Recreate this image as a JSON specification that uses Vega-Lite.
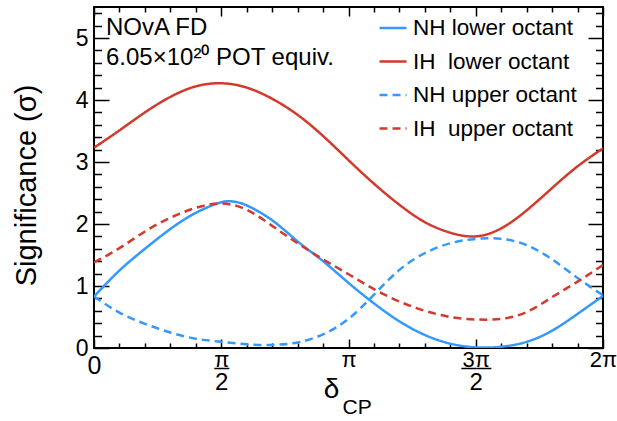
{
  "$schema": "https://vega.github.io/schema/vega-lite/v6.json",
  "autosize": "none",
  "padding": {"left": 94, "top": 7, "right": 14, "bottom": 73},
  "width": 509,
  "height": 341,
  "config": {
    "font": "Liberation Sans",
    "view": {"stroke": "black", "strokeWidth": 2},
    "axis": {"domain": false, "grid": false, "tickColor": "black", "tickWidth": 1.5, "labelColor": "black", "titleColor": "black", "labelFont": "Liberation Sans", "titleFont": "Liberation Sans", "titleFontWeight": "normal", "labelFlush": false, "labelOverlap": false}
  },
  "datasets": {
    "curves": [
      {"series": "NH lower octant", "v": 0.0, "s": 0.83},
      {"series": "NH lower octant", "v": 0.1, "s": 1.25},
      {"series": "NH lower octant", "v": 0.2, "s": 1.60},
      {"series": "NH lower octant", "v": 0.3, "s": 1.92},
      {"series": "NH lower octant", "v": 0.4, "s": 2.18},
      {"series": "NH lower octant", "v": 0.5, "s": 2.35},
      {"series": "NH lower octant", "v": 0.55, "s": 2.36},
      {"series": "NH lower octant", "v": 0.6, "s": 2.30},
      {"series": "NH lower octant", "v": 0.7, "s": 2.06},
      {"series": "NH lower octant", "v": 0.8, "s": 1.72},
      {"series": "NH lower octant", "v": 0.9, "s": 1.40},
      {"series": "NH lower octant", "v": 1.0, "s": 1.05},
      {"series": "NH lower octant", "v": 1.1, "s": 0.72},
      {"series": "NH lower octant", "v": 1.2, "s": 0.43},
      {"series": "NH lower octant", "v": 1.3, "s": 0.21},
      {"series": "NH lower octant", "v": 1.4, "s": 0.07},
      {"series": "NH lower octant", "v": 1.5, "s": 0.01},
      {"series": "NH lower octant", "v": 1.6, "s": 0.02},
      {"series": "NH lower octant", "v": 1.7, "s": 0.10},
      {"series": "NH lower octant", "v": 1.8, "s": 0.28},
      {"series": "NH lower octant", "v": 1.9, "s": 0.55},
      {"series": "NH lower octant", "v": 2.0, "s": 0.84},
      {"series": "IH lower octant", "v": 0.0, "s": 3.23},
      {"series": "IH lower octant", "v": 0.1, "s": 3.51},
      {"series": "IH lower octant", "v": 0.2, "s": 3.80},
      {"series": "IH lower octant", "v": 0.3, "s": 4.05},
      {"series": "IH lower octant", "v": 0.4, "s": 4.22},
      {"series": "IH lower octant", "v": 0.5, "s": 4.27},
      {"series": "IH lower octant", "v": 0.6, "s": 4.20},
      {"series": "IH lower octant", "v": 0.7, "s": 4.02},
      {"series": "IH lower octant", "v": 0.8, "s": 3.76},
      {"series": "IH lower octant", "v": 0.9, "s": 3.42},
      {"series": "IH lower octant", "v": 1.0, "s": 3.03},
      {"series": "IH lower octant", "v": 1.1, "s": 2.65},
      {"series": "IH lower octant", "v": 1.2, "s": 2.31},
      {"series": "IH lower octant", "v": 1.3, "s": 2.03},
      {"series": "IH lower octant", "v": 1.4, "s": 1.86},
      {"series": "IH lower octant", "v": 1.5, "s": 1.80},
      {"series": "IH lower octant", "v": 1.6, "s": 1.93},
      {"series": "IH lower octant", "v": 1.7, "s": 2.22},
      {"series": "IH lower octant", "v": 1.8, "s": 2.58},
      {"series": "IH lower octant", "v": 1.9, "s": 2.93},
      {"series": "IH lower octant", "v": 2.0, "s": 3.22},
      {"series": "NH upper octant", "v": 0.0, "s": 0.83},
      {"series": "NH upper octant", "v": 0.1, "s": 0.57},
      {"series": "NH upper octant", "v": 0.2, "s": 0.39},
      {"series": "NH upper octant", "v": 0.3, "s": 0.25},
      {"series": "NH upper octant", "v": 0.4, "s": 0.15},
      {"series": "NH upper octant", "v": 0.5, "s": 0.10},
      {"series": "NH upper octant", "v": 0.6, "s": 0.06},
      {"series": "NH upper octant", "v": 0.7, "s": 0.05},
      {"series": "NH upper octant", "v": 0.8, "s": 0.09},
      {"series": "NH upper octant", "v": 0.9, "s": 0.22},
      {"series": "NH upper octant", "v": 1.0, "s": 0.47},
      {"series": "NH upper octant", "v": 1.1, "s": 0.86},
      {"series": "NH upper octant", "v": 1.2, "s": 1.26},
      {"series": "NH upper octant", "v": 1.3, "s": 1.53},
      {"series": "NH upper octant", "v": 1.4, "s": 1.69},
      {"series": "NH upper octant", "v": 1.5, "s": 1.76},
      {"series": "NH upper octant", "v": 1.6, "s": 1.76},
      {"series": "NH upper octant", "v": 1.7, "s": 1.66},
      {"series": "NH upper octant", "v": 1.8, "s": 1.43},
      {"series": "NH upper octant", "v": 1.9, "s": 1.13},
      {"series": "NH upper octant", "v": 2.0, "s": 0.85},
      {"series": "IH upper octant", "v": 0.0, "s": 1.38},
      {"series": "IH upper octant", "v": 0.1, "s": 1.61},
      {"series": "IH upper octant", "v": 0.2, "s": 1.88},
      {"series": "IH upper octant", "v": 0.3, "s": 2.10},
      {"series": "IH upper octant", "v": 0.4, "s": 2.26},
      {"series": "IH upper octant", "v": 0.5, "s": 2.33},
      {"series": "IH upper octant", "v": 0.6, "s": 2.23},
      {"series": "IH upper octant", "v": 0.7, "s": 1.97},
      {"series": "IH upper octant", "v": 0.8, "s": 1.69},
      {"series": "IH upper octant", "v": 0.9, "s": 1.43},
      {"series": "IH upper octant", "v": 1.0, "s": 1.19},
      {"series": "IH upper octant", "v": 1.1, "s": 0.95},
      {"series": "IH upper octant", "v": 1.2, "s": 0.75},
      {"series": "IH upper octant", "v": 1.3, "s": 0.60},
      {"series": "IH upper octant", "v": 1.4, "s": 0.50},
      {"series": "IH upper octant", "v": 1.5, "s": 0.46},
      {"series": "IH upper octant", "v": 1.6, "s": 0.47},
      {"series": "IH upper octant", "v": 1.7, "s": 0.58},
      {"series": "IH upper octant", "v": 1.8, "s": 0.82},
      {"series": "IH upper octant", "v": 1.9, "s": 1.07},
      {"series": "IH upper octant", "v": 2.0, "s": 1.34}
    ],
    "anchor": [{"v": 0, "s": 0}],
    "notes": [
      {"v": 0.047, "s": 5.35, "t": "NOvA FD"},
      {"v": 0.047, "s": 4.868, "t": "6.05×10²⁰ POT equiv."}
    ]
  },
  "resolve": {"axis": {"x": "independent", "y": "independent"}},
  "layer": [
    {
      "data": {"name": "curves"},
      "mark": {"type": "line", "strokeWidth": 2.5, "interpolate": "natural", "clip": true},
      "encoding": {
        "x": {"field": "v", "type": "quantitative", "scale": {"domain": [0, 2], "nice": false, "zero": false},
          "axis": {"orient": "bottom", "values": [0], "ticks": false, "labelFontSize": 25, "labelPadding": 5, "labelBaseline": "top",
            "labelExpr": "'0'",
            "title": "δ", "titleFontSize": 28, "titleX": 237, "titleY": 49, "titleAlign": "center", "titleBaseline": "alphabetic"}},
        "y": {"field": "s", "type": "quantitative", "scale": {"domain": [0, 5.5], "nice": false},
          "axis": {"orient": "left", "values": [0, 1, 2, 3, 4, 5], "ticks": false, "labelFontSize": 23, "labelPadding": 6,
            "title": "Significance (σ)", "titleFontSize": 29, "titleX": -59, "titleY": 178, "titleAngle": -90, "titleAlign": "center", "titleBaseline": "alphabetic"}},
        "color": {"field": "series", "type": "nominal",
          "scale": {"domain": ["NH lower octant", "IH lower octant", "NH upper octant", "IH upper octant"], "range": ["#3399ff", "#d23a2d", "#3399ff", "#d23a2d"]},
          "legend": {"orient": "none", "legendX": 284, "legendY": 6, "title": null, "symbolType": "stroke", "symbolSize": 729, "symbolStrokeWidth": 2.5, "labelFontSize": 22.5, "labelOffset": 5, "labelLimit": 400, "rowPadding": 6.5, "padding": 0, "labelColor": "black",
            "labelExpr": "datum.label == 'IH lower octant' ? 'IH\u00a0 lower octant' : datum.label == 'IH upper octant' ? 'IH\u00a0 upper octant' : datum.label"}},
        "strokeDash": {"field": "series", "type": "nominal",
          "scale": {"domain": ["NH lower octant", "IH lower octant", "NH upper octant", "IH upper octant"], "range": [[1, 0], [1, 0], [8, 5], [8, 5]]},
          "legend": {"orient": "none", "legendX": 284, "legendY": 6, "title": null, "symbolType": "stroke", "symbolSize": 729, "symbolStrokeWidth": 2.5, "labelFontSize": 22.5, "labelOffset": 5, "labelLimit": 400, "rowPadding": 6.5, "padding": 0, "labelColor": "black",
            "labelExpr": "datum.label == 'IH lower octant' ? 'IH\u00a0 lower octant' : datum.label == 'IH upper octant' ? 'IH\u00a0 upper octant' : datum.label"}}
      }
    },
    {
      "data": {"name": "anchor"},
      "mark": {"type": "point", "opacity": 0},
      "encoding": {
        "x": {"field": "v", "type": "quantitative", "axis": {"orient": "bottom", "values": [0, 0.5, 1, 1.5, 2], "labels": false, "tickSize": -9, "title": null}},
        "y": {"field": "s", "type": "quantitative", "axis": {"orient": "left", "values": [0, 1, 2, 3, 4, 5], "labels": false, "tickSize": -15, "title": null}}
      }
    },
    {
      "data": {"name": "anchor"},
      "mark": {"type": "point", "opacity": 0},
      "encoding": {
        "x": {"field": "v", "type": "quantitative", "axis": {"orient": "bottom", "values": [0.1, 0.2, 0.3, 0.4, 0.6, 0.7, 0.8, 0.9, 1.1, 1.2, 1.3, 1.4, 1.6, 1.7, 1.8, 1.9], "labels": false, "tickSize": -5,
          "title": "CP", "titleFontSize": 21, "titleX": 248, "titleY": 65, "titleAlign": "left", "titleBaseline": "alphabetic"}},
        "y": {"field": "s", "type": "quantitative", "axis": {"orient": "left", "values": [0.2, 0.4, 0.6, 0.8, 1.2, 1.4, 1.6, 1.8, 2.2, 2.4, 2.6, 2.8, 3.2, 3.4, 3.6, 3.8, 4.2, 4.4, 4.6, 4.8, 5.2, 5.4], "labels": false, "tickSize": -7.5, "title": null}}
      }
    },
    {
      "data": {"name": "anchor"},
      "mark": {"type": "point", "opacity": 0},
      "encoding": {
        "x": {"field": "v", "type": "quantitative", "axis": {"orient": "top", "values": [0, 0.5, 1, 1.5, 2], "labels": false, "tickSize": -9, "title": null}},
        "y": {"field": "s", "type": "quantitative", "axis": {"orient": "right", "values": [0, 1, 2, 3, 4, 5], "labels": false, "tickSize": -15, "title": null}}
      }
    },
    {
      "data": {"name": "anchor"},
      "mark": {"type": "point", "opacity": 0},
      "encoding": {
        "x": {"field": "v", "type": "quantitative", "axis": {"orient": "top", "values": [0.1, 0.2, 0.3, 0.4, 0.6, 0.7, 0.8, 0.9, 1.1, 1.2, 1.3, 1.4, 1.6, 1.7, 1.8, 1.9], "labels": false, "tickSize": -5, "title": null}},
        "y": {"field": "s", "type": "quantitative", "axis": {"orient": "right", "values": [0.2, 0.4, 0.6, 0.8, 1.2, 1.4, 1.6, 1.8, 2.2, 2.4, 2.6, 2.8, 3.2, 3.4, 3.6, 3.8, 4.2, 4.4, 4.6, 4.8, 5.2, 5.4], "labels": false, "tickSize": -7.5, "title": null}}
      }
    },
    {
      "data": {"name": "anchor"},
      "mark": {"type": "point", "opacity": 0},
      "encoding": {
        "x": {"field": "v", "type": "quantitative", "axis": {"orient": "bottom", "values": [0.5, 1, 1.5, 2], "ticks": false, "labelFontSize": 22, "labelPadding": 18, "labelBaseline": "alphabetic",
          "labelExpr": "datum.value == 1.5 ? '3\u03c0' : datum.value == 2 ? '2\u03c0' : '\u03c0'", "title": null}},
        "y": {"field": "s", "type": "quantitative", "axis": null}
      }
    },
    {
      "data": {"name": "anchor"},
      "mark": {"type": "point", "opacity": 0},
      "encoding": {
        "x": {"field": "v", "type": "quantitative", "axis": {"orient": "bottom", "values": [0.5, 1.5], "ticks": false, "labelFontSize": 15, "labelFontWeight": "bold", "labelPadding": 24.5, "labelBaseline": "alphabetic",
          "labelExpr": "datum.value == 0.5 ? '\u2014' : '\u2014\u2014'", "title": null}},
        "y": {"field": "s", "type": "quantitative", "axis": null}
      }
    },
    {
      "data": {"name": "anchor"},
      "mark": {"type": "point", "opacity": 0},
      "encoding": {
        "x": {"field": "v", "type": "quantitative", "axis": {"orient": "bottom", "values": [0.5, 1.5], "ticks": false, "labelFontSize": 24, "labelPadding": 22, "labelBaseline": "top",
          "labelExpr": "'2'", "title": null}},
        "y": {"field": "s", "type": "quantitative", "axis": null}
      }
    },
    {
      "data": {"name": "notes"},
      "mark": {"type": "text", "align": "left", "baseline": "top", "fontSize": 24, "color": "black"},
      "encoding": {
        "x": {"field": "v", "type": "quantitative", "axis": null},
        "y": {"field": "s", "type": "quantitative", "axis": null},
        "text": {"field": "t"}
      }
    }
  ]
}
